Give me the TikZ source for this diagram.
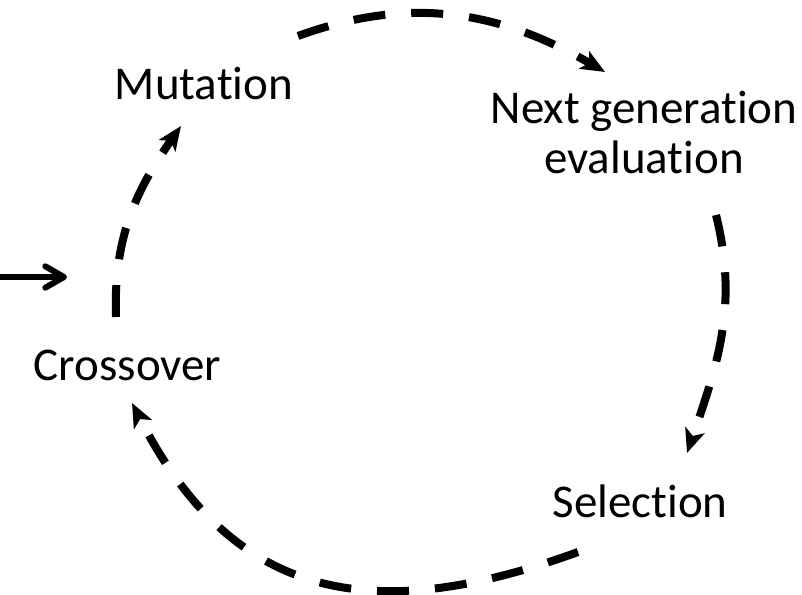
\documentclass[tikz,border=0pt]{standalone}
\usepackage{fontspec}
\setmainfont{Carlito}[Ligatures={NoCommon}]
\usetikzlibrary{arrows.meta}

\begin{document}
\begin{tikzpicture}[
    x=0.75pt, y=-0.75pt,
    lbl/.style={inner sep=0pt, font=\fontsize{35.25}{37.5}\selectfont, align=center},
    cycarrow/.style={line width=6pt, dash pattern=on 24pt off 19.5pt,
      -{Stealth[length=18pt, width=15pt, inset=4.5pt]}},
    ]
    \useasboundingbox (0,0) rectangle (802,595);

    % Stages of the loop
    \node[lbl, anchor=base] (mutation) at (204,100) {Mutation};
    \node[lbl] (nextgen) at (644,133) {Next generation\\evaluation};
    \node[lbl, anchor=base] (selection) at (640,517) {Selection};
    \node[lbl, anchor=base] (crossover) at (127.5,380) {Crossover};

    % Entry
    \coordinate (input) at (0,277);
    \coordinate (entry) at (67,277);
    \draw[line width=4.5pt, -{Straight Barb[length=14pt, width=16pt, round]}] (input) -- (entry);

    % Cycle
    \draw[cycarrow] ([shift={(94,-64)}]mutation.base) to[out=20, in=150] ([shift={(-39,-61)}]nextgen.center);
    \draw[cycarrow] ([shift={(72,82)}]nextgen.center) to[out=-76, in=71] ([shift={(47,-64)}]selection.base);
    \draw[cycarrow] ([shift={(-62,35)}]selection.base) to[out=200, in=-63, looseness=1.2] ([shift={(4.5,23)}]crossover.base);
    \draw[cycarrow] ([shift={(-11.5,-63)}]crossover.base) to[out=92, in=235] ([shift={(-23,26)}]mutation.base);
\end{tikzpicture}
\end{document}
